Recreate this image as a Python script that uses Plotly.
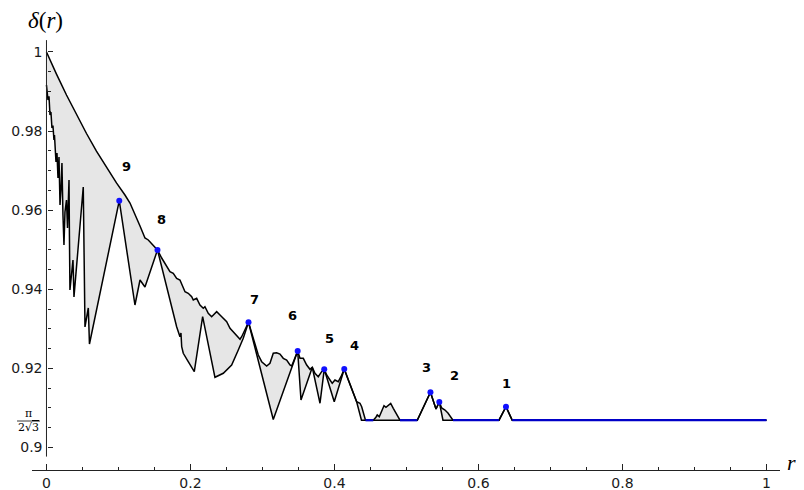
import plotly.graph_objects as go

# ---------------- data ----------------
PI_LEVEL = 0.9069  # pi / (2 sqrt 3)

upper_pts = [
    (0.0, 1.0), (0.0069, 0.99717), (0.0139, 0.99441), (0.0278, 0.98913), (0.0417, 0.98412),
    (0.0556, 0.97939), (0.0694, 0.97494), (0.0833, 0.97080), (0.0972, 0.96690), (0.1090, 0.96384),
    (0.1160, 0.96182), (0.1299, 0.95600), (0.1368, 0.95297), (0.1414, 0.95247), (0.1465, 0.95145),
    (0.1542, 0.94994), (0.1600, 0.94791), (0.1669, 0.94571), (0.1715, 0.94445), (0.1761, 0.94404),
    (0.1808, 0.94278), (0.1854, 0.94235), (0.1900, 0.94066), (0.1924, 0.93939), (0.1969, 0.93899),
    (0.2017, 0.93813), (0.2039, 0.93730), (0.2086, 0.93772), (0.2132, 0.93603), (0.2178, 0.93520),
    (0.2201, 0.93560), (0.2247, 0.93393), (0.2294, 0.93307), (0.2364, 0.93434), (0.2410, 0.93350),
    (0.2456, 0.93267), (0.2503, 0.93181), (0.2549, 0.93014), (0.2594, 0.92928), (0.2642, 0.92845),
    (0.2688, 0.92736), (0.2711, 0.92801), (0.2806, 0.93166), (0.2942, 0.92339), (0.2989, 0.92169),
    (0.3058, 0.92061), (0.3104, 0.92129), (0.3150, 0.92382), (0.3197, 0.92397), (0.3243, 0.92364),
    (0.3289, 0.92255), (0.3336, 0.92212), (0.3382, 0.92086), (0.3406, 0.92061), (0.3489, 0.92440),
    (0.3521, 0.92255), (0.3567, 0.92255), (0.3614, 0.92086), (0.3660, 0.91977), (0.3692, 0.92028),
    (0.3729, 0.91876), (0.3775, 0.91790), (0.3822, 0.91917), (0.3858, 0.91977), (0.3892, 0.91833),
    (0.3938, 0.91707), (0.3969, 0.91623), (0.4007, 0.91707), (0.4053, 0.91664), (0.4090, 0.91790),
    (0.4136, 0.91985), (0.4192, 0.91707), (0.4261, 0.91370), (0.4308, 0.91158), (0.4354, 0.91118),
    (0.4378, 0.91031), (0.4431, 0.90690), (0.4539, 0.90690), (0.4576, 0.90765), (0.4594, 0.90822),
    (0.4622, 0.90779), (0.4656, 0.90948), (0.4688, 0.91057), (0.4715, 0.91016), (0.4747, 0.91074),
    (0.4781, 0.91117), (0.4817, 0.90991), (0.4854, 0.90865), (0.4910, 0.90690), (0.5150, 0.90690),
    (0.5333, 0.91398), (0.5410, 0.90973), (0.5456, 0.91150), (0.5489, 0.90999), (0.5535, 0.90948),
    (0.5576, 0.90872), (0.5646, 0.90690), (0.6285, 0.90690), (0.6382, 0.91031), (0.6469, 0.90690),
    (1.0, 0.90690),
]

lower_pts = [
    (0.0, 0.99166), (0.0021, 0.98786), (0.0035, 0.98880), (0.0049, 0.98407), (0.0062, 0.98480),
    (0.0076, 0.98078), (0.0090, 0.98140), (0.0104, 0.97775), (0.0111, 0.97900),
    (0.0118, 0.97522), (0.0132, 0.97219), (0.0146, 0.97446), (0.0160, 0.96814), (0.0174, 0.97345),
    (0.0181, 0.96650), (0.0188, 0.96131), (0.0201, 0.96511), (0.0215, 0.97193), (0.0229, 0.95879),
    (0.0243, 0.95120), (0.0257, 0.95954), (0.0278, 0.96258), (0.0292, 0.95550), (0.0313, 0.96764),
    (0.0319, 0.95348), (0.0326, 0.93982), (0.0368, 0.94741), (0.0382, 0.93805), (0.0511, 0.96587),
    (0.0535, 0.93047), (0.0581, 0.93527), (0.0597, 0.92617), (0.1011, 0.96240), (0.1229, 0.93603),
    (0.1299, 0.94235), (0.1368, 0.94058), (0.1542, 0.94994), (0.1622, 0.94405), (0.1715, 0.93729),
    (0.1808, 0.93054), (0.1854, 0.92801), (0.1868, 0.92895), (0.1878, 0.92549), (0.1900, 0.92382),
    (0.1969, 0.92169), (0.2053, 0.91917), (0.2169, 0.93307), (0.2340, 0.91775), (0.2456, 0.91876),
    (0.2572, 0.92086), (0.2664, 0.92465), (0.2733, 0.92761), (0.2806, 0.93166), (0.3150, 0.90708),
    (0.3489, 0.92440), (0.3535, 0.91201), (0.3692, 0.92028), (0.3799, 0.91118), (0.3858, 0.91977),
    (0.3997, 0.91158), (0.4136, 0.91985), (0.4192, 0.91707), (0.4261, 0.91370), (0.4308, 0.91158),
    (0.4375, 0.90690), (0.4539, 0.90690), (0.4910, 0.90690), (0.5150, 0.90690), (0.5333, 0.91398),
    (0.5410, 0.90973), (0.5456, 0.91150), (0.5507, 0.90690), (0.5646, 0.90690), (0.6285, 0.90690),
    (0.6382, 0.91031), (0.6469, 0.90690), (1.0, 0.90690),
]

# blue stretches of the level pi/(2 sqrt 3)
blue_r = [0.4431, 0.4539, None, 0.4910, 0.5150, None, 0.5646, 0.6285, None, 0.6469, 1.0]
blue_d = [PI_LEVEL, PI_LEVEL, None, PI_LEVEL, PI_LEVEL, None, PI_LEVEL, PI_LEVEL, None, PI_LEVEL, PI_LEVEL]

peak_labels = ["1", "2", "3", "4", "5", "6", "7", "8", "9"]
peak_r = [0.6382, 0.5456, 0.5333, 0.4136, 0.3858, 0.3489, 0.2806, 0.1542, 0.1011]
peak_d = [0.91031, 0.91150, 0.91398, 0.91985, 0.91977, 0.92440, 0.93166, 0.94994, 0.96240]

x_tickvals = [0, 0.2, 0.4, 0.6, 0.8, 1.0]
x_ticktext = ["0", "0.2", "0.4", "0.6", "0.8", "1"]
y_tickvals = [0.90, 0.92, 0.94, 0.96, 0.98, 1.00]
y_ticktext = ["0.9", "0.92", "0.94", "0.96", "0.98", "1"]

# ---------------- layout-only offsets for the peak labels (pixels) ----------------
label_shift = {"1": (1, 23), "2": (15, 27), "3": (-3.5, 25), "4": (10, 23), "5": (5, 31),
               "6": (-5.5, 35.5), "7": (5.5, 23), "8": (4.5, 30.5), "9": (7, 34)}

upper_r = [p[0] for p in upper_pts]
upper_d = [p[1] for p in upper_pts]
lower_r = [p[0] for p in lower_pts]
lower_d = [p[1] for p in lower_pts]

AX = "#222222"
fig = go.Figure()

# gray region between the bounds
fig.add_trace(go.Scatter(
    x=upper_r + lower_r[::-1], y=upper_d + lower_d[::-1],
    mode="lines", fill="toself", fillcolor="#e6e6e6",
    line=dict(width=0), hoverinfo="skip", showlegend=False))
fig.add_trace(go.Scatter(x=upper_r, y=upper_d, mode="lines",
                         line=dict(color="black", width=1.5), showlegend=False))
fig.add_trace(go.Scatter(x=lower_r, y=lower_d, mode="lines",
                         line=dict(color="black", width=1.5), showlegend=False))
fig.add_trace(go.Scatter(x=blue_r, y=blue_d, mode="lines",
                         line=dict(color="#0000c8", width=2.3), connectgaps=False, showlegend=False))
fig.add_trace(go.Scatter(x=peak_r, y=peak_d, mode="markers",
                         marker=dict(color="#1010ff", size=6), showlegend=False))

for lab, r, d in zip(peak_labels, peak_r, peak_d):
    dx, dy = label_shift[lab]
    fig.add_annotation(x=r, y=d, text="<b>" + lab + "</b>", showarrow=False,
                       xshift=dx, yshift=dy, xanchor="center", yanchor="middle",
                       font=dict(family="DejaVu Sans", size=13, color="black"))

# pi/(2 sqrt 3) tick label as a small fraction
fig.add_annotation(xref="paper", yref="y", x=-0.0047, y=PI_LEVEL, yshift=7, text="π",
                   xanchor="center", yanchor="middle",
                   showarrow=False, font=dict(family="DejaVu Serif", size=11, color="black"))
fig.add_annotation(xref="paper", yref="y", x=-0.0047, y=PI_LEVEL, yshift=-7,
                   text="2√<span style='text-decoration:overline'>3</span>",
                   xanchor="center", yanchor="middle",
                   showarrow=False, font=dict(family="DejaVu Serif", size=11, color="black"))
fig.add_shape(type="line", xref="paper", yref="y", x0=-0.0200, x1=0.0107,
              y0=PI_LEVEL - 0.0002, y1=PI_LEVEL - 0.0002, line=dict(color="black", width=0.8))

# y axis line (stops short of the x axis)
fig.add_shape(type="line", xref="x", yref="y", x0=0, x1=0, y0=0.8977, y1=1.0030,
              line=dict(color=AX, width=1), layer="above")

# axis titles
fig.add_annotation(xref="paper", yref="paper", x=0.0174, y=1.045,
                   xanchor="center", yanchor="middle",
                   text="<i>δ</i>(<i>r</i>)", showarrow=False,
                   font=dict(family="Liberation Serif", size=23, color="black"))
fig.add_annotation(xref="paper", yref="paper", x=1.0150, y=0.018,
                   xanchor="center", yanchor="middle",
                   text="<i>r</i>", showarrow=False,
                   font=dict(family="Liberation Serif", size=22, color="black"))

# the page body adds an 8px margin, so the figure is 8px smaller and margins shifted
fig.update_layout(
    width=796, height=482,
    margin=dict(l=24, r=24, t=32, b=20),
    plot_bgcolor="white", paper_bgcolor="white",
    showlegend=False,
    xaxis=dict(range=[-0.0201, 1.0188], showgrid=False, zeroline=False,
               showline=True, linecolor=AX, linewidth=1,
               tickmode="array", tickvals=x_tickvals, ticktext=x_ticktext,
               ticks="inside", ticklen=6, tickcolor=AX, tickwidth=1,
               minor=dict(ticks="inside", ticklen=3.5, tickcolor=AX, tickwidth=1,
                          tickmode="array", tickvals=[i * 0.05 for i in range(21)]),
               tickfont=dict(family="DejaVu Sans", size=14, color="#1a1a1a"),
               automargin=False),
    yaxis=dict(range=[0.89431, 1.00303], showgrid=False, zeroline=False,
               showline=False, anchor="free", position=0.01939, side="left",
               tickmode="array", tickvals=y_tickvals, ticktext=y_ticktext,
               ticks="inside", ticklen=5, tickcolor=AX, tickwidth=1,
               minor=dict(ticks="inside", ticklen=3.5, tickcolor=AX, tickwidth=1,
                          tickmode="array", tickvals=[0.9 + i * 0.005 for i in range(21)]),
               tickfont=dict(family="DejaVu Sans", size=14, color="#1a1a1a"),
               ticklabelstandoff=4,
               automargin=False),
)

fig.write_html("out.html")
